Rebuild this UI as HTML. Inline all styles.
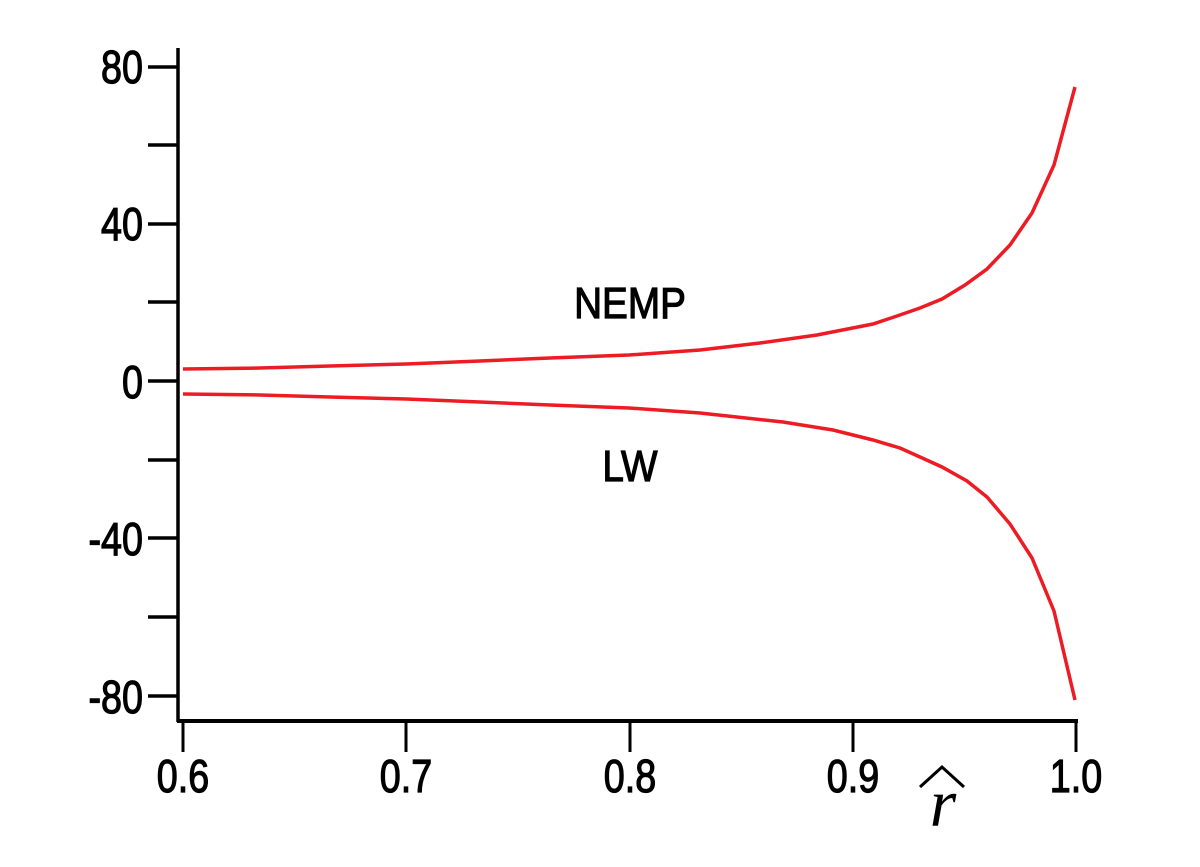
<!DOCTYPE html>
<html><head><meta charset="utf-8"><style>
html,body{margin:0;padding:0;background:#fff;width:1200px;height:867px;overflow:hidden}
text{font-family:"Liberation Sans",sans-serif;fill:#000}
.t{stroke:#000;stroke-width:1.2}
</style></head><body>
<svg width="1200" height="867" viewBox="0 0 1200 867" xmlns="http://www.w3.org/2000/svg">
<g stroke="#000" fill="none">
<line x1="178" y1="48" x2="178" y2="722" stroke-width="3.5"/>
<line x1="177" y1="721" x2="1078" y2="721" stroke-width="4"/>
<g stroke-width="3.5">
<line x1="148" y1="67" x2="178" y2="67"/>
<line x1="148" y1="145" x2="178" y2="145"/>
<line x1="148" y1="224" x2="178" y2="224"/>
<line x1="148" y1="302" x2="178" y2="302"/>
<line x1="148" y1="381" x2="178" y2="381"/>
<line x1="148" y1="460" x2="178" y2="460"/>
<line x1="148" y1="538" x2="178" y2="538"/>
<line x1="148" y1="617" x2="178" y2="617"/>
<line x1="148" y1="696" x2="178" y2="696"/>
</g>
<g stroke-width="3">
<line x1="183" y1="721" x2="183" y2="752"/>
<line x1="406" y1="721" x2="406" y2="752"/>
<line x1="630" y1="721" x2="630" y2="752"/>
<line x1="853" y1="721" x2="853" y2="752"/>
<line x1="1076" y1="721" x2="1076" y2="752"/>
</g>
</g>
<g font-size="46" class="t" text-anchor="end">
<text transform="translate(143,83) scale(0.82,1)">80</text>
<text transform="translate(143,240) scale(0.82,1)">40</text>
<text transform="translate(143,398) scale(0.82,1)">0</text>
<text transform="translate(143,555) scale(0.82,1)">-40</text>
<text transform="translate(143,713) scale(0.82,1)">-80</text>
</g>
<g font-size="46" class="t" text-anchor="middle">
<text transform="translate(183,792) scale(0.82,1)">0.6</text>
<text transform="translate(406,792) scale(0.82,1)">0.7</text>
<text transform="translate(630,792) scale(0.82,1)">0.8</text>
<text transform="translate(853,792) scale(0.82,1)">0.9</text>
<text transform="translate(1076,792) scale(0.82,1)">1.0</text>
</g>
<text x="943" y="826" font-size="68" font-style="italic" text-anchor="middle" style="font-family:'Liberation Serif',serif">r</text>
<polyline points="920,787 942,767 964,787" fill="none" stroke="#000" stroke-width="3"/>
<text transform="translate(630,318) scale(0.88,1)" font-size="44" class="t" text-anchor="middle">NEMP</text>
<text transform="translate(630,481) scale(0.88,1)" font-size="44" class="t" text-anchor="middle">LW</text>
<g fill="none" stroke="#ed1c24" stroke-width="3.5">
<polyline points="183,369 260,368 330,366 406,364 480,361 550,358 629,355 700,350 760,343 817,335 873,324 897,316 920,308 942,299 965,285 987,269 1010,245 1032,213 1054,165 1075,87"/>
<polyline points="183,394 260,395 330,397 406,399 480,402 550,405 629,408 700,413 783,422 833,430 873,440 900,448 920,457 942,467 967,481 987,497 1010,524 1032,558 1054,611 1075,700"/>
</g>
</svg>
</body></html>
